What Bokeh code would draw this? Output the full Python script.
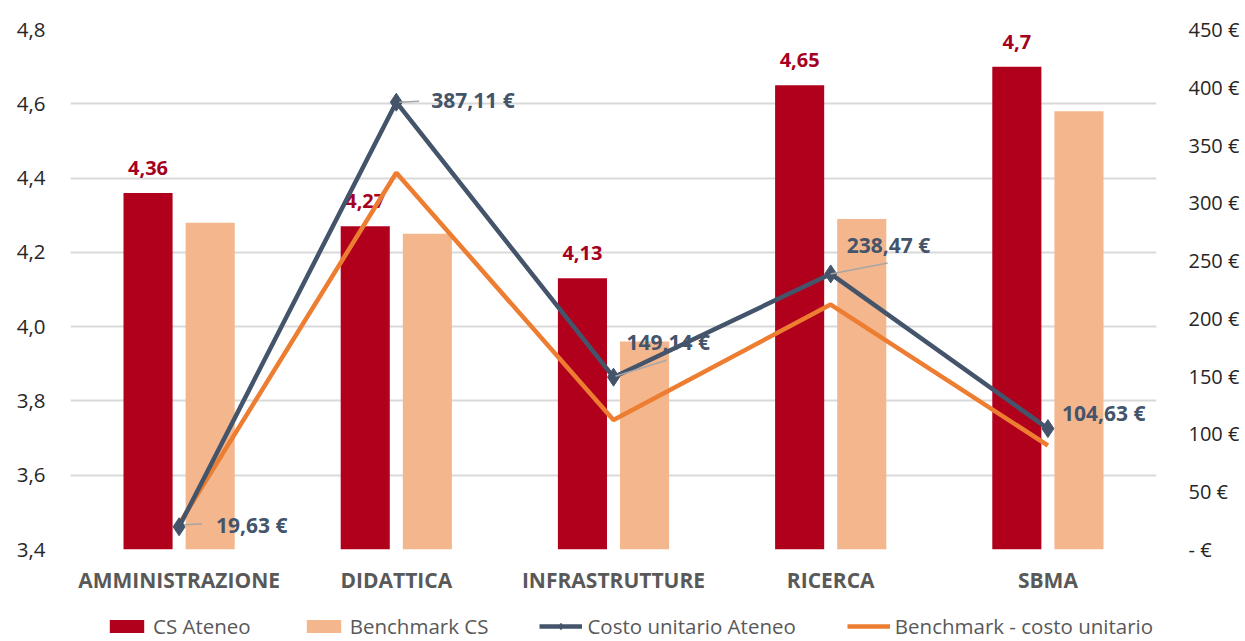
from bokeh.plotting import figure
from bokeh.layouts import column
from bokeh.models import (FactorRange, Range1d, LinearAxis, FixedTicker, Legend,
                          LegendItem, ColumnDataSource)
from bokeh.transform import dodge
from bokeh.core.properties import value
from bokeh.embed import file_html
from bokeh.resources import INLINE

# ---------------- data ----------------
categories = ["AMMINISTRAZIONE", "DIDATTICA", "INFRASTRUTTURE", "RICERCA", "SBMA"]
cs_ateneo = [4.36, 4.27, 4.13, 4.65, 4.70]
benchmark_cs = [4.28, 4.25, 3.96, 4.29, 4.58]
costo_ateneo = [19.63, 387.11, 149.14, 238.47, 104.63]
benchmark_costo = [22, 326, 112, 212, 90]
cs_labels = ["4,36", "4,27", "4,13", "4,65", "4,7"]
costo_labels = ["19,63 €", "387,11 €", "149,14 €", "238,47 €", "104,63 €"]
left_ticks = [3.4, 3.6, 3.8, 4.0, 4.2, 4.4, 4.6, 4.8]
left_tick_labels = ["3,4", "3,6", "3,8", "4,0", "4,2", "4,4", "4,6", "4,8"]
right_ticks = [0, 50, 100, 150, 200, 250, 300, 350, 400, 450]
right_tick_labels = ["- €", "50 €", "100 €", "150 €", "200 €", "250 €",
                     "300 €", "350 €", "400 €", "450 €"]
series_names = ["CS Ateneo", "Benchmark CS", "Costo unitario Ateneo",
                "Benchmark - costo unitario"]

# label placement (screen pixels, relative to the data point)
label_dx = [37, 35, 13, 16, 14]
label_dy = [-2, -2, -35, -29, -16]
# leader lines (screen pixels from the point): start and end
leader_start = [(5, -2), (3, 0), (2, -1), (0, 0)]
leader_end = [(23, -3), (23, -1), (53, -17), (57, -11)]

# ---------------- style ----------------
FONT = value("Open Sans")
RED = "#B0001B"
PEACH = "#F4B68D"
BLUE = "#44546A"
ORANGE = "#ED7D31"
GRID = "#D9D9D9"

W, H = 1242, 610
FRAME_W, FRAME_H = 1088, 520
B_LEFT, B_TOP = 70, 29
B_RIGHT = W - B_LEFT - FRAME_W
B_BOTTOM = H - B_TOP - FRAME_H
px_per_cat = FRAME_W / len(categories)
px_per_eur = FRAME_H / 450.0

src = ColumnDataSource(dict(
    cat=categories, cs=cs_ateneo, bcs=benchmark_cs,
    costo=costo_ateneo, bcosto=benchmark_costo,
    cs_lbl=cs_labels, costo_lbl=costo_labels,
    dx=label_dx, dy=label_dy,
))

p = figure(x_range=FactorRange(*categories), y_range=Range1d(3.4, 4.8),
           width=W, height=H,
           output_backend="svg", toolbar_location=None,
           min_border_left=B_LEFT, min_border_right=B_RIGHT,
           min_border_top=B_TOP, min_border_bottom=B_BOTTOM)
p.extra_y_ranges = {"cost": Range1d(0, 450)}
p.outline_line_color = None
p.background_fill_color = "white"
p.border_fill_color = "white"

# grid
p.xgrid.grid_line_color = None
p.ygrid.grid_line_color = GRID
p.ygrid.grid_line_width = 2
p.ygrid.ticker = FixedTicker(ticks=left_ticks)

# left axis
ya = p.yaxis[0]
ya.ticker = FixedTicker(ticks=left_ticks)
ya.major_label_overrides = {t: l for t, l in zip(left_ticks, left_tick_labels)}
ya.axis_line_color = None
ya.major_tick_line_color = None
ya.minor_tick_line_color = None
ya.major_label_standoff = 19
ya.major_label_text_font = "Open Sans"
ya.major_label_text_font_size = "20.5px"
ya.major_label_text_color = "#262626"

# right axis
ra = LinearAxis(y_range_name="cost")
ra.ticker = FixedTicker(ticks=right_ticks)
ra.major_label_overrides = {t: l for t, l in zip(right_ticks, right_tick_labels)}
ra.axis_line_color = None
ra.major_tick_line_color = None
ra.minor_tick_line_color = None
ra.major_label_standoff = 26
ra.major_label_text_font = "Open Sans"
ra.major_label_text_font_size = "20px"
ra.major_label_text_color = "#262626"
p.add_layout(ra, "right")

# x axis
xa = p.xaxis[0]
xa.axis_line_color = None
xa.major_tick_line_color = None
xa.minor_tick_line_color = None
xa.major_label_standoff = 10
xa.major_label_text_font = "Open Sans"
xa.major_label_text_font_style = "bold"
xa.major_label_text_font_size = "21px"
xa.major_label_text_color = "#595959"

# bars
p.vbar(x=dodge("cat", -0.143, range=p.x_range), top="cs", bottom=3.4,
       width=0.226, source=src, fill_color=RED, line_color=None)
p.vbar(x=dodge("cat", 0.143, range=p.x_range), top="bcs", bottom=3.4,
       width=0.226, source=src, fill_color=PEACH, line_color=None)

# bar labels
p.text(x=dodge("cat", -0.143, range=p.x_range), y="cs", text="cs_lbl", source=src,
       text_align="center", text_baseline="alphabetic", y_offset=-25,
       text_font=FONT, text_font_style="bold", text_font_size="20px",
       text_color="#A50021")

# lines
p.line(x="cat", y="bcosto", y_range_name="cost", source=src,
       line_color=ORANGE, line_width=4.5)
p.line(x="cat", y="costo", y_range_name="cost", source=src,
       line_color=BLUE, line_width=4.5)
p.scatter(x="cat", y="costo", y_range_name="cost", source=src,
          marker="diamond", size=18, fill_color=BLUE, line_color=BLUE)

# leader lines
for i, ((sx0, sy0), (sx1, sy1)) in enumerate(zip(leader_start, leader_end)):
    ls = ColumnDataSource(dict(
        cat=[categories[i]],
        y0=[costo_ateneo[i] - sy0 / px_per_eur],
        y1=[costo_ateneo[i] - sy1 / px_per_eur],
    ))
    p.segment(x0=dodge("cat", sx0 / px_per_cat, range=p.x_range), y0="y0",
              x1=dodge("cat", sx1 / px_per_cat, range=p.x_range), y1="y1",
              y_range_name="cost", source=ls, line_color="#A6A6A6", line_width=1.5)

# cost labels
p.text(x="cat", y="costo", text="costo_lbl", source=src, y_range_name="cost",
       x_offset="dx", y_offset="dy", text_align="left", text_baseline="middle",
       text_font=FONT, text_font_style="bold", text_font_size="21px",
       text_color=BLUE)

# ---------------- legend strip ----------------
lg = figure(width=W, height=30, output_backend="svg", toolbar_location=None,
            x_axis_type=None, y_axis_type=None,
            x_range=Range1d(0, 1), y_range=Range1d(0, 1),
            min_border_left=0, min_border_right=0,
            min_border_top=0, min_border_bottom=0)
lg.outline_line_color = None
lg.xgrid.visible = False
lg.ygrid.visible = False
lg.border_fill_color = "white"
# off-screen placeholder points: only the legend swatches are visible
hidden = ColumnDataSource(dict(x=[-5, -4], y=[-5, -4]))
g_cs = lg.vbar(x="x", top="y", width=0.1, source=hidden, fill_color=RED, line_color=None)
g_bcs = lg.vbar(x="x", top="y", width=0.1, source=hidden, fill_color=PEACH, line_color=None)
g_al = lg.line(x="x", y="y", source=hidden, line_color=BLUE, line_width=4.5)
g_am = lg.scatter(x="x", y="y", source=hidden, marker="diamond", size=15,
                  fill_color=BLUE, line_color=BLUE)
g_bl = lg.line(x="x", y="y", source=hidden, line_color=ORANGE, line_width=4.5)

legend = Legend(items=[
    LegendItem(label=series_names[0], renderers=[g_cs]),
    LegendItem(label=series_names[1], renderers=[g_bcs]),
    LegendItem(label=series_names[2], renderers=[g_al, g_am]),
    LegendItem(label=series_names[3], renderers=[g_bl]),
], orientation="horizontal", location=(35, 0))
legend.label_text_font = "Open Sans"
legend.label_text_font_size = "20.5px"
legend.label_text_color = "#595959"
legend.glyph_width = 43
legend.glyph_height = 16
legend.label_standoff = 5
legend.spacing = 51
legend.padding = 0
legend.margin = 0
legend.border_line_color = None
legend.background_fill_alpha = 0
lg.add_layout(legend)

layout = column(p, lg, spacing=0)
open("out.html", "w").write(file_html(layout, INLINE))
